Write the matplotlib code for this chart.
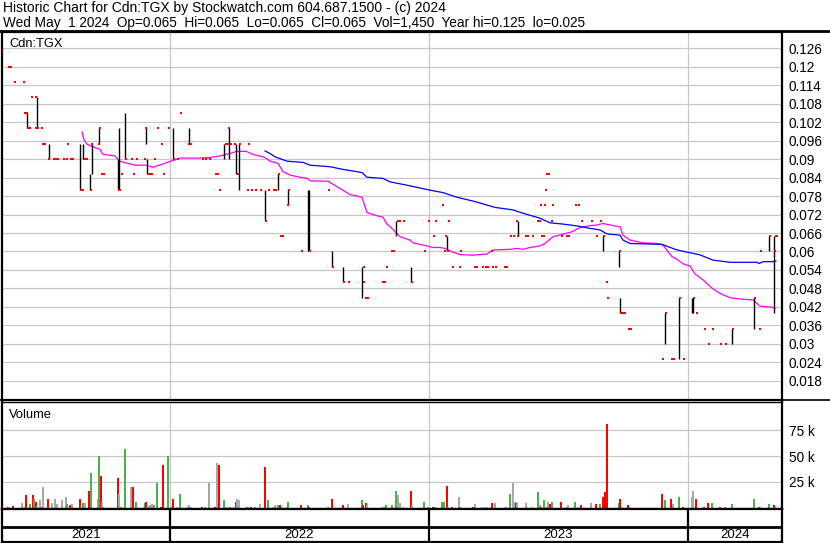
import matplotlib.pyplot as plt
from matplotlib.lines import Line2D

plt.rcParams['font.family'] = ['Liberation Sans', 'DejaVu Sans']

# x values are trading-session numbers (about one session per pixel column)
year_starts = [170, 429, 688]
year_labels = ['2021', '2022', '2023', '2024']
session_range = (2, 782)

# closing prices (red dots)
close_days = [2, 9, 11, 15, 24, 25, 27, 28, 30, 32, 36, 36, 38, 42, 43, 45, 49, 54, 56, 58,
              64, 67, 68, 71, 73, 81, 83, 85, 87, 91, 92, 99, 100, 102, 104, 119, 120, 122,
              126, 132, 134, 137, 145, 146, 148, 150, 152, 155, 158, 162, 164, 169, 174, 178,
              181, 189, 191, 203, 206, 210, 216, 218, 220, 226, 228, 229, 231, 235, 238, 240,
              248, 249, 252, 256, 261, 266, 269, 274, 276, 279, 281, 283, 288, 289, 302, 310,
              329, 333, 344, 349, 364, 364, 366, 368, 383, 385, 387, 392, 394, 398, 400, 404,
              412, 425, 429, 434, 436, 443, 445, 446, 448, 449, 453, 460, 461, 475, 477, 483,
              486, 488, 492, 493, 496, 505, 507, 511, 514, 517, 518, 526, 528, 533, 538, 540,
              541, 542, 544, 545, 546, 547, 549, 552, 553, 562, 567, 569, 576, 579, 582, 592,
              597, 601, 604, 607, 608, 620, 621, 623, 625, 629, 631, 663, 666, 672, 674, 680,
              684, 694, 697, 705, 709, 713, 721, 726, 733, 755, 760, 761, 770, 775, 776, 777]
close_vals = [0.125, 0.12, 0.12, 0.115, 0.115, 0.105, 0.105, 0.10, 0.10, 0.11, 0.11, 0.10, 0.10, 0.10, 0.095, 0.095, 0.09, 0.09, 0.09, 0.09,
              0.09, 0.09, 0.095, 0.09, 0.09, 0.08, 0.08, 0.09, 0.09, 0.08, 0.095, 0.095, 0.10, 0.085, 0.085, 0.08, 0.08, 0.085,
              0.09, 0.09, 0.085, 0.09, 0.09, 0.10, 0.085, 0.085, 0.085, 0.09, 0.10, 0.095, 0.085, 0.10, 0.09, 0.09,
              0.105, 0.095, 0.095, 0.09, 0.09, 0.09, 0.085, 0.085, 0.08, 0.095, 0.095, 0.10, 0.095, 0.095, 0.085, 0.095,
              0.08, 0.095, 0.08, 0.08, 0.08, 0.07, 0.08, 0.08, 0.08, 0.085, 0.065, 0.065, 0.075, 0.08, 0.06, 0.06,
              0.08, 0.055, 0.05, 0.05, 0.055, 0.05, 0.045, 0.045, 0.05, 0.05, 0.055, 0.06, 0.06, 0.07, 0.07, 0.07,
              0.05, 0.06, 0.07, 0.065, 0.07, 0.075, 0.06, 0.065, 0.06, 0.07, 0.055, 0.055, 0.06, 0.055, 0.055, 0.055,
              0.055, 0.055, 0.06, 0.055, 0.055, 0.055, 0.055, 0.065, 0.065, 0.07, 0.065, 0.065, 0.065, 0.065, 0.07, 0.07,
              0.075, 0.065, 0.065, 0.075, 0.08, 0.085, 0.085, 0.07, 0.075, 0.065, 0.065, 0.065, 0.075, 0.075, 0.07, 0.07,
              0.065, 0.07, 0.065, 0.05, 0.045, 0.06, 0.04, 0.04, 0.04, 0.035, 0.035, 0.025, 0.04, 0.025, 0.025, 0.045,
              0.025, 0.045, 0.04, 0.035, 0.03, 0.035, 0.03, 0.03, 0.035, 0.045, 0.035, 0.06, 0.065, 0.06, 0.065, 0.065]

# high-low ranges (black bars)
range_days = [27, 37, 49, 80, 83, 90, 92, 99, 118, 119, 125, 146, 147, 173, 189, 224, 229, 236, 239,
              265, 278, 288, 308, 309, 332, 343, 362, 396, 411, 447, 518, 603, 619, 620, 665, 679,
              692, 693, 732, 754, 769, 774]
range_lo = [0.10, 0.10, 0.09, 0.08, 0.09, 0.08, 0.085, 0.095, 0.08, 0.08, 0.09, 0.095, 0.085, 0.09, 0.095,
            0.09, 0.09, 0.085, 0.08, 0.07, 0.08, 0.075, 0.06, 0.06, 0.055, 0.05, 0.045, 0.065, 0.05, 0.06,
            0.065, 0.06, 0.055, 0.04, 0.03, 0.025, 0.04, 0.04, 0.03, 0.035, 0.06, 0.04]
range_hi = [0.105, 0.11, 0.095, 0.095, 0.095, 0.085, 0.095, 0.10, 0.09, 0.10, 0.105, 0.10, 0.09, 0.10, 0.10,
            0.095, 0.10, 0.095, 0.095, 0.08, 0.085, 0.08, 0.08, 0.08, 0.06, 0.055, 0.055, 0.07, 0.055, 0.065,
            0.07, 0.065, 0.06, 0.045, 0.04, 0.045, 0.045, 0.045, 0.035, 0.045, 0.065, 0.065]

# short moving average (magenta)
ma_short_days = [82, 84, 87, 95, 100, 103, 115, 119, 124, 135, 146, 153, 163, 171, 180, 190, 200, 210,
                 220, 230, 237, 246, 253, 265, 270, 278, 283, 290, 300, 308, 310, 328, 337, 350, 362,
                 367, 377, 383, 387, 393, 400, 410, 413, 423, 433, 440, 445, 452, 460, 473, 487, 493,
                 510, 517, 523, 530, 540, 545, 553, 563, 572, 580, 590, 597, 603, 607, 620, 623, 630,
                 643, 658, 663, 672, 677, 683, 690, 695, 703, 712, 720, 730, 743, 753, 760, 772, 775]
ma_short = [0.0988, 0.0962, 0.0948, 0.0937, 0.0931, 0.0915, 0.0910, 0.0894, 0.0889, 0.0880, 0.0880, 0.0873,
            0.0884, 0.0893, 0.0903, 0.0903, 0.0903, 0.0905, 0.0910, 0.0918, 0.0925, 0.0925, 0.0915, 0.0905,
            0.0893, 0.0886, 0.0859, 0.0848, 0.0841, 0.0837, 0.0829, 0.0828, 0.0810, 0.0785, 0.0776, 0.0726,
            0.0716, 0.0711, 0.0689, 0.0672, 0.0648, 0.0637, 0.0628, 0.0621, 0.0613, 0.0613, 0.0610, 0.0599,
            0.0590, 0.0588, 0.0592, 0.0605, 0.0607, 0.0610, 0.0607, 0.0613, 0.0618, 0.0626, 0.0648, 0.0656,
            0.0664, 0.0678, 0.0684, 0.0686, 0.0691, 0.0688, 0.0680, 0.0653, 0.0637, 0.0628, 0.0626, 0.0621,
            0.0583, 0.0575, 0.0560, 0.0553, 0.0527, 0.0508, 0.0481, 0.0464, 0.0450, 0.0445, 0.0443, 0.0423,
            0.0419, 0.0417]

# long moving average (blue)
ma_long_days = [265, 270, 275, 287, 303, 310, 330, 342, 362, 367, 383, 390, 407, 430, 443, 457, 475, 495,
                513, 523, 540, 550, 563, 577, 590, 600, 607, 620, 623, 630, 662, 677, 690, 700, 713, 730,
                757, 759, 763, 773, 776]
ma_long = [0.0926, 0.0918, 0.0907, 0.0893, 0.0889, 0.0880, 0.0875, 0.0867, 0.0856, 0.0841, 0.0837, 0.0826,
           0.0815, 0.0799, 0.0791, 0.0776, 0.0762, 0.0743, 0.0735, 0.0724, 0.0708, 0.0693, 0.0689, 0.0683,
           0.0675, 0.0670, 0.0657, 0.0653, 0.0637, 0.0626, 0.0623, 0.0605, 0.0596, 0.0589, 0.0572, 0.0565,
           0.0565, 0.0561, 0.0567, 0.0567, 0.0569]

# volume in thousands, direction: u = up, d = down, n = unchanged
vol_days = [1, 8, 9, 13, 22, 24, 26, 29, 30, 33, 34, 36, 37, 40, 42, 43, 48, 52, 55, 57, 62, 66, 67, 70,
            72, 80, 81, 83, 85, 89, 91, 98, 99, 101, 102, 103, 118, 119, 121, 125, 131, 133, 136, 137,
            144, 145, 146, 147, 148, 150, 152, 153, 154, 157, 161, 163, 168, 171, 173, 177, 180, 188,
            189, 191, 202, 205, 209, 215, 217, 219, 224, 225, 227, 230, 234, 236, 237, 239, 247, 248,
            251, 255, 260, 265, 268, 273, 275, 278, 280, 282, 287, 288, 301, 308, 309, 328, 332, 343,
            348, 362, 363, 366, 367, 383, 384, 386, 392, 393, 396, 398, 400, 403, 411, 412, 424, 428,
            433, 435, 442, 444, 447, 448, 452, 459, 460, 473, 475, 482, 485, 487, 491, 492, 495, 505,
            506, 510, 513, 515, 516, 517, 526, 527, 532, 538, 540, 541, 544, 545, 546, 548, 550, 552,
            561, 566, 568, 575, 578, 581, 591, 596, 600, 603, 605, 607, 619, 620, 622, 628, 630, 662,
            665, 671, 673, 679, 683, 692, 693, 696, 704, 708, 712, 720, 725, 732, 754, 759, 760, 769,
            774, 775]
vol_k = [3.1, 1, 1, 2.1, 4.3, 1.4, 12, 1, 3.4, 12, 9.1, 5.3, 2.1, 7.2, 1, 19.7, 9.1, 4.3, 9.1, 3.4, 7.2,
         10.1, 3.4, 2.4, 3.4, 8.2, 1, 4.3, 4.3, 16.8, 33.2, 8.2, 50.5, 30.3, 5.3, 1, 29.3, 13, 1, 57.2,
         19.7, 19.7, 6.2, 1.4, 1, 4.3, 5.3, 1.4, 2.1, 2.4, 3.4, 2.4, 2.4, 23.6, 0.6, 41.8, 50.5, 1.4, 9.1,
         0.6, 13.9, 0.6, 2.4, 1.4, 1, 1.4, 23.6, 1, 43.7, 40.9, 7.2, 1.4, 1.4, 1.4, 1.4, 5.3, 8.2, 7.2,
         1.4, 1.4, 0.6, 1.4, 3.4, 39.9, 7.2, 1, 2.4, 2.4, 2.4, 1, 1, 5.3, 2.4, 2.4, 1.4, 1, 9.1, 2.4,
         3.4, 7.2, 2.4, 4.3, 2.4, 1, 1, 2.4, 2.4, 1, 15.9, 12, 4.3, 1.4, 16.8, 2.4, 6.2, 1.4,
         1, 1, 5.3, 5.3, 21.6, 1, 1, 10.1, 1.4, 1.4, 3.4, 1.4, 1.4, 1, 1, 4.3, 4.3, 1.4,
         1, 13.9, 24.5, 5.3, 4.3, 5.3, 4.3, 1.4, 1.4, 14.9, 2.4, 1, 7.2, 1.4, 1.4, 6.2, 3.4, 5.3,
         5.3, 1.4, 2.4, 6.2, 1.4, 2.4, 4.3, 3.4, 3.4, 11, 14.9, 81, 4.3, 9.1, 1.4, 2.4, 1.4, 13.9,
         7.2, 9.1, 3.4, 11, 1.4, 11, 15.9, 8.2, 1.4, 4.3, 4.3, 1.4, 1, 3.4, 9.1, 1, 1, 3.4,
         2.4, 1]
vol_dir = ['n', 'd', 'n', 'd', 'n', 'n', 'd', 'n', 'u', 'd', 'u', 'd', 'n', 'n', 'd', 'n', 'd', 'n', 'n', 'n', 'n',
           'n', 'u', 'd', 'n', 'd', 'n', 'u', 'n', 'd', 'u', 'n', 'u', 'd', 'n', 'n', 'd', 'n', 'u', 'u',
           'n', 'd', 'u', 'n', 'n', 'u', 'd', 'n', 'n', 'n', 'n', 'n', 'u', 'u', 'd', 'd', 'u', 'n', 'd',
           'n', 'u', 'd', 'n', 'n', 'd', 'n', 'n', 'd', 'n', 'd', 'u', 'n', 'n', 'd', 'n', 'd', 'n', 'n',
           'd', 'u', 'd', 'n', 'n', 'd', 'u', 'n', 'n', 'u', 'd', 'n', 'n', 'u', 'd', 'u', 'd', 'u', 'd', 'd',
           'n', 'u', 'd', 'd', 'n', 'n', 'u', 'u', 'u', 'n', 'u', 'n', 'n', 'n', 'd', 'n', 'u', 'u',
           'd', 'u', 'u', 'u', 'd', 'n', 'd', 'n', 'u', 'd', 'n', 'n', 'n', 'n', 'n', 'd', 'n', 'n',
           'n', 'u', 'n', 'n', 'd', 'n', 'n', 'n', 'n', 'u', 'n', 'd', 'u', 'n', 'u', 'n', 'd', 'u',
           'd', 'n', 'n', 'u', 'n', 'd', 'n', 'd', 'u', 'd', 'd', 'd', 'u', 'd', 'n', 'd', 'n', 'd',
           'u', 'd', 'n', 'u', 'd', 'n', 'n', 'd', 'd', 'd', 'u', 'd', 'n', 'u', 'u', 'd', 'u', 'u',
           'd', 'u']

price_ticks = [0.018, 0.024, 0.03, 0.036, 0.042, 0.048, 0.054, 0.06, 0.066, 0.072, 0.078,
               0.084, 0.09, 0.096, 0.102, 0.108, 0.114, 0.12, 0.126]
vol_ticks = [25, 50, 75]

header1 = 'Historic Chart for Cdn:TGX by Stockwatch.com 604.687.1500 - (c) 2024'
header2 = ('Wed May  1 2024  Op=0.065  Hi=0.065  Lo=0.065  Cl=0.065  Vol=1,450  '
           'Year hi=0.125  lo=0.025')

W, H = 830, 543
grid_c = '#c8c8c8'
dir_colors = {'u': '#4cb04c', 'd': '#ff0000', 'n': '#a8a8a8'}


def box(x0, y0, x1, y1):
    return [x0 / W, 1 - y1 / H, (x1 - x0) / W, (y1 - y0) / H]


fig = plt.figure(figsize=(W / 100, H / 100), dpi=100)
ax_p = fig.add_axes(box(2, 32, 782, 400))
ax_v = fig.add_axes(box(2, 402, 782, 509))
ax_y = fig.add_axes(box(2, 509, 782, 542))

# price panel
ax_p.set_xlim(*session_range)
ax_p.set_ylim(0.01183, 0.1312)
for t in price_ticks:
    ax_p.axhline(t, color=grid_c, lw=0.9, zorder=0)
for d in year_starts:
    ax_p.axvline(d, color=grid_c, lw=0.9, zorder=0)
ax_p.plot(ma_short_days, ma_short, color='#ff00ff', lw=0.9, zorder=2)
ax_p.plot(ma_long_days, ma_long, color='#0000ff', lw=0.9, zorder=2)
ax_p.vlines(range_days, range_lo, range_hi, color='black', lw=1.0, zorder=3)
ax_p.plot(close_days, close_vals, 's', color='#ff0000', ms=2.15, mew=0, zorder=4)
ax_p.set_yticks(price_ticks)
ax_p.set_yticklabels([f'{t:g}' for t in price_ticks])
ax_p.yaxis.tick_right()
ax_p.tick_params(axis='y', length=0, pad=5, labelsize=9.8)
ax_p.set_xticks([])
ax_p.text(9, 0.1312 - 15 / 3083, 'Cdn:TGX', fontsize=9.3, va='baseline')

# volume panel
ax_v.set_xlim(*session_range)
ax_v.set_ylim(-1.0, 102)
for t in vol_ticks:
    ax_v.axhline(t, color=grid_c, lw=0.9, zorder=0)
for d in year_starts:
    ax_v.axvline(d, color=grid_c, lw=0.9, zorder=0)
ax_v.bar(vol_days, vol_k, width=1.7, color=[dir_colors[c] for c in vol_dir], linewidth=0, zorder=2)
ax_v.set_yticks(vol_ticks)
ax_v.set_yticklabels([f'{t} k' for t in vol_ticks])
ax_v.yaxis.tick_right()
ax_v.tick_params(axis='y', length=0, pad=5, labelsize=9.8)
ax_v.set_xticks([])
ax_v.text(9, 87, 'Volume', fontsize=9.3, va='baseline')

# year band
ax_y.set_xlim(*session_range)
ax_y.set_ylim(0, 1)
ax_y.axhline(15 / 33, color='black', lw=2)
for d in year_starts:
    ax_y.axvline(d, color='black', lw=1.6)
edges = [session_range[0]] + year_starts + [session_range[1]]
for i, lab in enumerate(year_labels):
    ax_y.text((edges[i] + edges[i + 1]) / 2, 7.5 / 33, lab, ha='center', va='center', fontsize=9.5)
ax_y.set_xticks([])
ax_y.set_yticks([])

for ax in (ax_p, ax_v, ax_y):
    for s in ax.spines.values():
        s.set_color('black')
        s.set_linewidth(1.6)
ax_v.spines['top'].set_linewidth(1.0)

# outer frame lines
fig.add_artist(Line2D([0, 1], [1 - 31 / H, 1 - 31 / H], color='black', lw=2))
fig.add_artist(Line2D([0, 1], [1 - 400 / H, 1 - 400 / H], color='black', lw=1.2))

fig.text(3 / W, 1 - 12 / H, header1, fontsize=10, va='baseline')
fig.text(3 / W, 1 - 27.5 / H, header2, fontsize=9.8, va='baseline')

fig.savefig('out.png', dpi=100)
